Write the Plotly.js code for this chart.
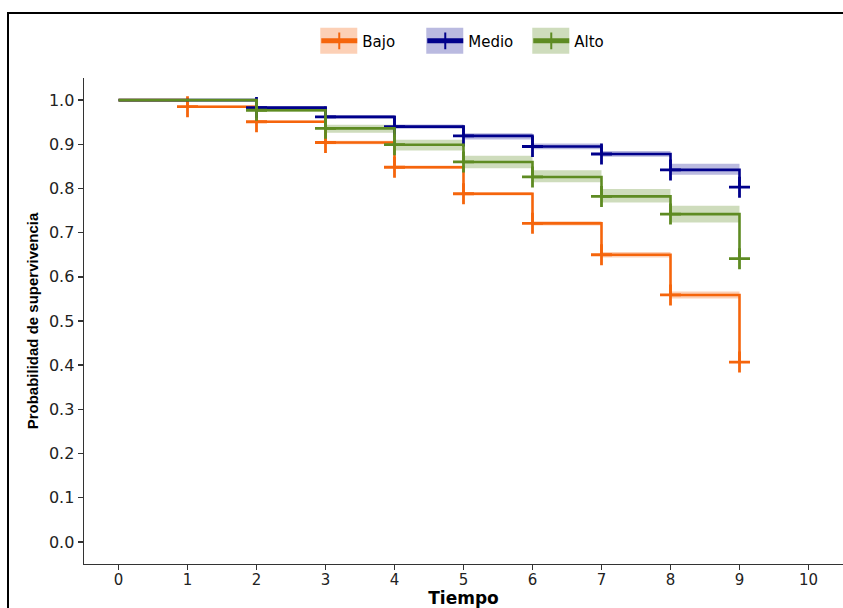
<!DOCTYPE html>
<html>
<head>
<meta charset="utf-8">
<script src="https://cdn.plot.ly/plotly-3.0.1.min.js"></script>
<style>
  html, body { margin: 0; padding: 0; background: #ffffff; }
  #wrap { position: relative; width: 843px; height: 608px; overflow: hidden; }
  #chart { position: absolute; left: 0; top: 0; width: 843px; height: 608px; }
  #frame { position: absolute; left: 7px; top: 12px; width: 840px; height: 600px;
           border-top: 2.5px solid #000; border-left: 2.5px solid #000; pointer-events: none; }
</style>
</head>
<body>
<div id="wrap">
  <div id="chart"></div>
  <div id="frame"></div>
</div>
<script>
// ---- data ----
const tiempos = [0, 1, 2, 3, 4, 5, 6, 7, 8, 9];
const grupos = ["Bajo", "Medio", "Alto"];

const survBajo  = [1.000, 0.985, 0.951, 0.904, 0.848, 0.788, 0.721, 0.650, 0.559, 0.407];
const survMedio = [1.000, 1.000, 0.983, 0.962, 0.940, 0.919, 0.895, 0.878, 0.842, 0.803];
const survAlto  = [1.000, 1.000, 0.977, 0.936, 0.899, 0.860, 0.826, 0.782, 0.742, 0.641];

const upperBajo  = [1.000, 0.988, 0.954, 0.908, 0.852, 0.792, 0.726, 0.656, 0.567, 0.407];
const lowerBajo  = [1.000, 0.982, 0.948, 0.900, 0.844, 0.784, 0.716, 0.644, 0.551, 0.407];
const upperMedio = [1.000, 1.000, 0.986, 0.966, 0.945, 0.925, 0.902, 0.885, 0.856, 0.803];
const lowerMedio = [1.000, 1.000, 0.980, 0.958, 0.935, 0.911, 0.889, 0.872, 0.831, 0.803];
const upperAlto  = [1.000, 1.000, 0.981, 0.944, 0.910, 0.874, 0.841, 0.799, 0.761, 0.641];
const lowerAlto  = [1.000, 1.000, 0.973, 0.926, 0.886, 0.846, 0.814, 0.768, 0.723, 0.641];

// times at which censoring "+" marks are drawn
const marcasBajo  = [1, 2, 3, 4, 5, 6, 7, 8, 9];
const marcasMedio = [2, 3, 4, 5, 6, 7, 8, 9];
const marcasAlto  = [2, 3, 4, 5, 6, 7, 8, 9];

const xTicks = [0, 1, 2, 3, 4, 5, 6, 7, 8, 9, 10];
const yTicks = [0.0, 0.1, 0.2, 0.3, 0.4, 0.5, 0.6, 0.7, 0.8, 0.9, 1.0];

// ---- styles ----
const lineColors = ["#F5650C", "#00008B", "#5E8B22"];
const bandColors = ["rgba(245,101,12,0.30)", "rgba(0,0,139,0.27)", "rgba(94,139,34,0.30)"];

const survs  = [survBajo, survMedio, survAlto];
const uppers = [upperBajo, upperMedio, upperAlto];
const lowers = [lowerBajo, lowerMedio, lowerAlto];
const marcas = [marcasBajo, marcasMedio, marcasAlto];

const traces = [];
// confidence ribbons
for (let g = 0; g < 3; g++) {
  traces.push({
    x: tiempos, y: uppers[g], mode: "lines", line: {shape: "hv", width: 0, color: bandColors[g]},
    showlegend: false, hoverinfo: "skip"
  });
  traces.push({
    x: tiempos, y: lowers[g], mode: "lines", line: {shape: "hv", width: 0, color: bandColors[g]},
    fill: "tonexty", fillcolor: bandColors[g], showlegend: false, hoverinfo: "skip"
  });
}
// survival step lines with "+" marks
for (let g = 0; g < 3; g++) {
  const sizes = tiempos.map(t => marcas[g].includes(t) ? 15 : 0);
  traces.push({
    x: tiempos, y: survs[g], name: grupos[g], mode: "lines+markers",
    line: {shape: "hv", width: 2.6, color: lineColors[g]},
    marker: {symbol: "cross-thin", size: sizes, color: lineColors[g], opacity: 1,
             line: {width: 2.8, color: lineColors[g]}}
  });
}

const layout = {
  width: 843, height: 608,
  margin: {l: 84, r: 0, t: 78, b: 44, pad: 0},
  paper_bgcolor: "#ffffff", plot_bgcolor: "#ffffff",
  showlegend: true,
  legend: {
    orientation: "h", traceorder: "normal", x: 0.5155, xanchor: "center", y: 1.076, yanchor: "middle",
    bgcolor: "rgba(0,0,0,0)", itemsizing: "constant", itemwidth: 36,
    entrywidth: 55, entrywidthmode: "pixels",
    font: {family: "DejaVu Sans, Arial, sans-serif", size: 15, color: "#000"}
  },
  xaxis: {
    range: [-0.5, 10.5], tickvals: xTicks, ticktext: xTicks.map(String),
    showgrid: false, zeroline: false, showline: true, linecolor: "#333", linewidth: 1.4,
    ticks: "outside", ticklen: 5, tickwidth: 1.4, tickcolor: "#333", ticklabelstandoff: -3,
    tickfont: {family: "DejaVu Sans, Arial, sans-serif", size: 15, color: "#222"},
    title: {text: "Tiempo", standoff: 0,
            font: {family: "DejaVu Sans, Arial, sans-serif", size: 17, color: "#000", weight: "bold"}},
    automargin: false, fixedrange: true
  },
  yaxis: {
    range: [-0.05, 1.05], tickvals: yTicks, ticktext: yTicks.map(v => v.toFixed(1)),
    showgrid: false, zeroline: false, showline: true, linecolor: "#333", linewidth: 1.4,
    ticks: "outside", ticklen: 5, tickwidth: 1.4, tickcolor: "#333",
    tickfont: {family: "DejaVu Sans, Arial, sans-serif", size: 16, color: "#222"},
    title: {text: "Probabilidad de supervivencia", standoff: 6,
            font: {family: "Liberation Sans, Arial, sans-serif", size: 15, color: "#000", weight: "bold"}},
    automargin: false, fixedrange: true
  },
  hovermode: false
};

const gd = document.getElementById("chart");
Plotly.newPlot(gd, traces, layout, {displayModeBar: false, staticPlot: true}).then(function () {
  // shaded key backgrounds behind legend symbols (as in the reference)
  const s = gd._fullLayout._size;
  const base = gd.getBoundingClientRect();
  const items = gd.querySelectorAll(".legend .traces");
  const shapes = [];
  items.forEach(function (it) {
    const txt = it.querySelector(".legendtext");
    const g = txt ? grupos.indexOf(txt.textContent.trim()) : -1;
    const p = it.querySelector(".legendlines path") || it.querySelector(".legendpoints path");
    if (!p || g < 0) return;
    const r = p.getBoundingClientRect();
    const cx = (r.left + r.right) / 2 - base.left;
    const cy = (r.top + r.bottom) / 2 - base.top;
    const toX = px => (px - s.l) / s.w;
    const toY = py => 1 - (py - s.t) / s.h;
    shapes.push({
      type: "rect", xref: "paper", yref: "paper",
      x0: toX(cx - 19), x1: toX(cx + 18), y0: toY(cy + 13), y1: toY(cy - 13),
      fillcolor: bandColors[g], line: {width: 0}, layer: "above"
    });
  });
  return Plotly.relayout(gd, {shapes: shapes});
});
</script>
</body>
</html>
